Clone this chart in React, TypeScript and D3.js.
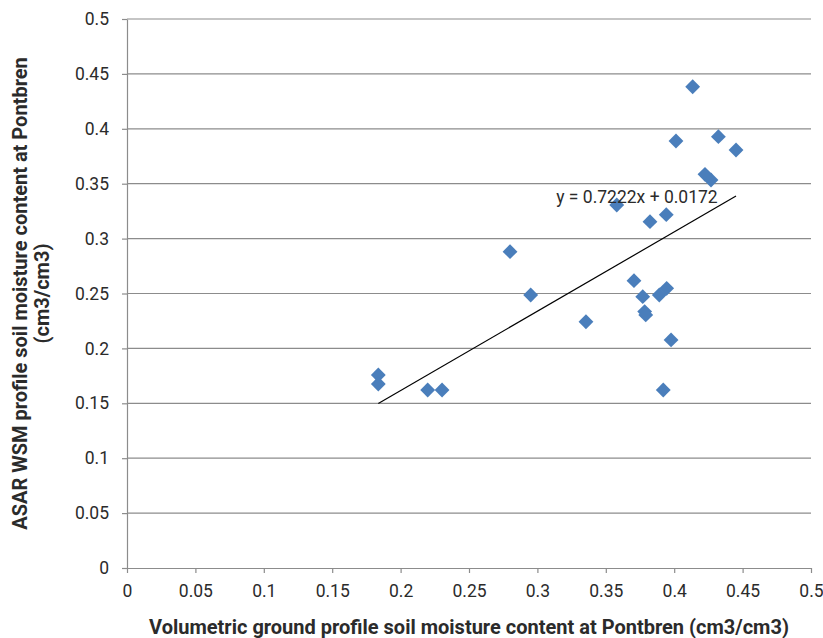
import { useEffect, useRef } from "react"
import * as d3 from "d3"

// Pontbren: ground soil moisture vs ASAR WSM
const groundValues = [
  0.4135, 0.4013, 0.4323, 0.4452, 0.4225, 0.4269, 0.358, 0.3823, 0.3942,
  0.280, 0.2951, 0.3355, 0.3706, 0.377, 0.3891, 0.3945, 0.3784, 0.3792,
  0.3977, 0.392, 0.1837, 0.1837, 0.2198, 0.2303,
]
const asarValues = [
  0.4383, 0.3889, 0.3928, 0.3807, 0.3585, 0.3534, 0.3306, 0.3154, 0.3218,
  0.2881, 0.2486, 0.2243, 0.2617, 0.2471, 0.2486, 0.2547, 0.2335, 0.2305,
  0.2077, 0.1621, 0.1758, 0.1676, 0.1621, 0.1621,
]
const xTicks = [0, 0.05, 0.1, 0.15, 0.2, 0.25, 0.3, 0.35, 0.4, 0.45, 0.5]
const yTicks = [0, 0.05, 0.1, 0.15, 0.2, 0.25, 0.3, 0.35, 0.4, 0.45, 0.5]
const slope = 0.7222
const intercept = 0.0172
const trendLabel = "y = 0.7222x + 0.0172"

export default function App() {
  const ref = useRef<SVGSVGElement>(null)

  useEffect(() => {
    const width = 823
    const height = 638
    const margin = { left: 127, right: 12, top: 19, bottom: 70 }
    const font = "Roboto, 'Noto Sans', sans-serif"
    const textColor = "#2b2b2b"
    const gray = "#8c8c8c"

    const svg = d3.select(ref.current)
    svg.selectAll("*").remove()

    const x = d3.scaleLinear().domain([0, 0.5]).range([margin.left, width - margin.right])
    const y = d3.scaleLinear().domain([0, 0.5]).range([height - margin.bottom, margin.top])

    // gridlines
    svg.append("g")
      .selectAll("line")
      .data(yTicks.slice(1))
      .join("line")
      .attr("x1", x(0))
      .attr("x2", x(0.5))
      .attr("y1", d => y(d))
      .attr("y2", d => y(d))
      .attr("stroke", gray)
      .attr("stroke-width", 1.2)

    // x axis
    const xAxis = svg.append("g")
      .attr("transform", `translate(0,${y(0)})`)
      .call(d3.axisBottom(x).tickValues(xTicks).tickSize(5).tickSizeOuter(0).tickFormat(d => String(d)))
    xAxis.select(".domain").attr("stroke", gray).attr("stroke-width", 1.2)
    xAxis.selectAll(".tick line").attr("stroke", gray).attr("stroke-width", 1.2)
    xAxis.selectAll(".tick text")
      .attr("font-family", font).attr("font-size", 17.5).attr("fill", textColor).attr("y", 12).attr("dy", "0.95em")

    // y axis
    const yAxis = svg.append("g")
      .attr("transform", `translate(${x(0)},0)`)
      .call(d3.axisLeft(y).tickValues(yTicks).tickSize(5).tickSizeOuter(0).tickFormat(d => String(d)))
    yAxis.select(".domain").attr("stroke", gray).attr("stroke-width", 1.2)
    yAxis.selectAll(".tick line").attr("stroke", gray).attr("stroke-width", 1.2)
    yAxis.selectAll(".tick text")
      .attr("font-family", font).attr("font-size", 17.5).attr("fill", textColor).attr("x", -18)

    // trend line
    const x0 = d3.min(groundValues) as number
    const x1 = d3.max(groundValues) as number
    svg.append("line")
      .attr("x1", x(x0)).attr("y1", y(slope * x0 + intercept))
      .attr("x2", x(x1)).attr("y2", y(slope * x1 + intercept))
      .attr("stroke", "#000").attr("stroke-width", 1.2)

    // points
    const diamond = d3.symbol().type(d3.symbolSquare).size(110)
    svg.append("g")
      .selectAll("path")
      .data(groundValues.map((g, i) => [g, asarValues[i]]))
      .join("path")
      .attr("d", diamond)
      .attr("transform", d => `translate(${x(d[0])},${y(d[1])}) rotate(45)`)
      .attr("fill", "#4a7ebb")

    svg.append("text")
      .attr("x", x(0.4457) - 19).attr("y", y(0.3397) + 8)
      .attr("text-anchor", "end")
      .attr("font-family", font).attr("font-size", 17.5).attr("fill", textColor)
      .text(trendLabel)

    // axis titles
    svg.append("text")
      .attr("x", (x(0) + x(0.5)) / 2).attr("y", 634)
      .attr("text-anchor", "middle")
      .attr("font-family", font).attr("font-size", 20).attr("font-weight", 700).attr("fill", textColor)
      .text("Volumetric ground profile soil moisture content at Pontbren (cm3/cm3)")

    const cy = (y(0) + y(0.5)) / 2
    const yTitle = svg.append("text")
      .attr("transform", `translate(27,${cy}) rotate(-90)`)
      .attr("text-anchor", "middle")
      .attr("font-family", font).attr("font-size", 20).attr("font-weight", 700).attr("fill", textColor)
    yTitle.append("tspan").attr("x", 0).attr("y", 0).text("ASAR WSM profile soil moisture content at Pontbren")
    yTitle.append("tspan").attr("x", 0).attr("y", 22).text("(cm3/cm3)")
  }, [])

  return (
    <div style={{ position: "absolute", left: 0, top: 0, background: "#fff" }}>
      <svg ref={ref} width={823} height={638} />
    </div>
  )
}
